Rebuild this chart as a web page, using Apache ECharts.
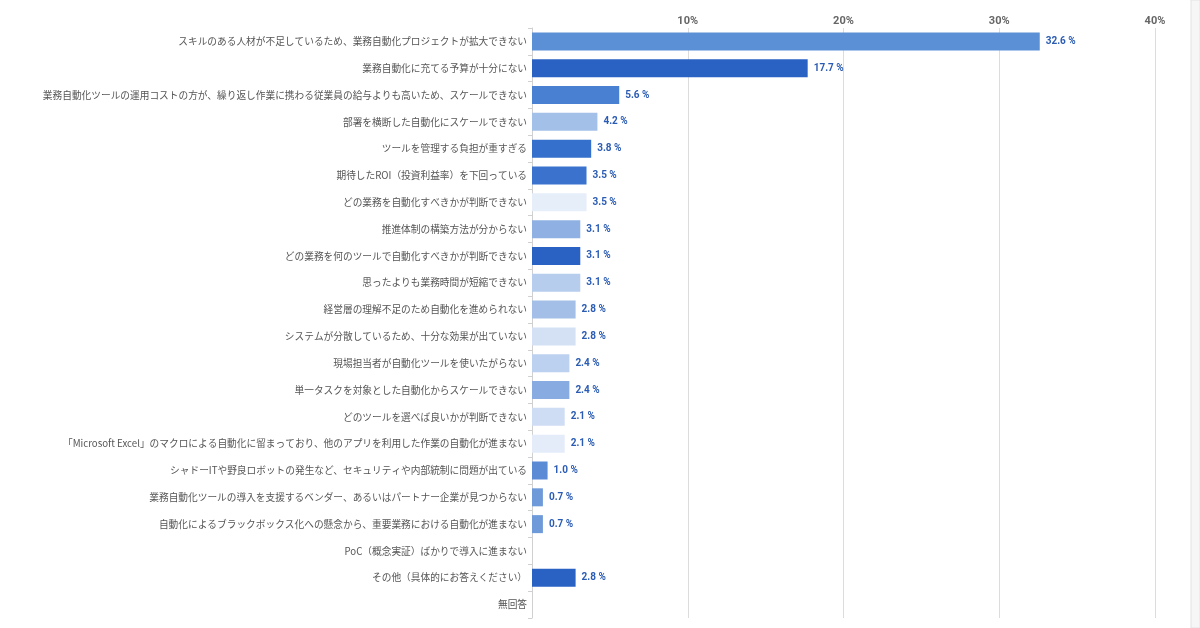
<!DOCTYPE html>
<html>
<head>
<meta charset="utf-8">
<script src="https://cdn.jsdelivr.net/npm/echarts@6/dist/echarts.min.js"></script>
<style>
  html, body { margin: 0; padding: 0; background: #fff; }
  #main { width: 1200px; height: 628px; }
</style>
</head>
<body>
<div id="main"></div>
<script>
// 回答項目
var categories = [
  "スキルのある人材が不足しているため、業務自動化プロジェクトが拡大できない",
  "業務自動化に充てる予算が十分にない",
  "業務自動化ツールの運用コストの方が、繰り返し作業に携わる従業員の給与よりも高いため、スケールできない",
  "部署を横断した自動化にスケールできない",
  "ツールを管理する負担が重すぎる",
  "期待したROI（投資利益率）を下回っている",
  "どの業務を自動化すべきかが判断できない",
  "推進体制の構築方法が分からない",
  "どの業務を何のツールで自動化すべきかが判断できない",
  "思ったよりも業務時間が短縮できない",
  "経営層の理解不足のため自動化を進められない",
  "システムが分散しているため、十分な効果が出ていない",
  "現場担当者が自動化ツールを使いたがらない",
  "単一タスクを対象とした自動化からスケールできない",
  "どのツールを選べば良いかが判断できない",
  "「Microsoft Excel」のマクロによる自動化に留まっており、他のアプリを利用した作業の自動化が進まない",
  "シャドーITや野良ロボットの発生など、セキュリティや内部統制に問題が出ている",
  "業務自動化ツールの導入を支援するベンダー、あるいはパートナー企業が見つからない",
  "自動化によるブラックボックス化への懸念から、重要業務における自動化が進まない",
  "PoC（概念実証）ばかりで導入に進まない",
  "その他（具体的にお答えください）",
  "無回答"
];

// 割合（%）
var values = [32.6, 17.7, 5.6, 4.2, 3.8, 3.5, 3.5, 3.1, 3.1, 3.1, 2.8, 2.8, 2.4, 2.4, 2.1, 2.1, 1.0, 0.7, 0.7, 0, 2.8, 0];

// 棒の色
var barColors = [
  "#5b8fd6", "#2a62c4", "#4a80d2", "#a3c0e8", "#3570cc", "#3a72ce",
  "#e6eef9", "#8fb0e2", "#2a62c4", "#b7cdee", "#a3bfe7", "#d4e1f5",
  "#bcd0ef", "#88ace2", "#cfddf4", "#e4ecf9", "#5a8bd4", "#6f9ad9",
  "#6f9ad9", "#6f9ad9", "#2a62c4", "#6f9ad9"
];

var tickValues = [0, 10, 20, 30, 40];

var chart = echarts.init(document.getElementById('main'));

var seriesData = [];
for (var i = 0; i < values.length; i++) {
  seriesData.push({ value: values[i], itemStyle: { color: barColors[i] } });
}

var option = {
  backgroundColor: '#ffffff',
  animation: false,
  graphic: [
    {
      type: 'rect',
      shape: { x: 1191, y: 0, width: 9, height: 628 },
      style: { fill: '#f6f6f6', stroke: '#e2e2e2', lineWidth: 1 },
      silent: true
    }
  ],
  grid: { left: 532, right: 45, top: 28, bottom: 10, containLabel: false, outerBoundsMode: 'none' },
  xAxis: {
    type: 'value',
    position: 'top',
    min: tickValues[0],
    max: tickValues[tickValues.length - 1],
    interval: 10,
    axisLine: { show: false },
    axisTick: { show: false },
    splitLine: { show: true, lineStyle: { color: '#dcdcdc', width: 1 } },
    axisLabel: {
      margin: 1,
      color: '#666',
      fontSize: 11,
      fontWeight: 'bold',
      fontFamily: 'Roboto, "Noto Sans CJK JP", sans-serif',
      formatter: function (v) { return v === 0 ? '' : v + '%'; }
    }
  },
  yAxis: {
    type: 'category',
    inverse: true,
    data: categories,
    axisLine: { show: true, lineStyle: { color: '#d0d0d0', width: 1 } },
    axisTick: { show: true, length: 4, lineStyle: { color: '#d0d0d0' } },
    axisLabel: {
      margin: 5,
      color: '#555',
      fontSize: 9.7,
      fontFamily: '"Noto Sans CJK JP", sans-serif'
    }
  },
  series: [
    {
      type: 'bar',
      data: seriesData,
      barWidth: 18,
      label: {
        show: true,
        position: 'right',
        distance: 6,
        color: '#2b5cb4',
        fontSize: 10,
        fontWeight: 'bold',
        fontFamily: 'Roboto, "Noto Sans CJK JP", sans-serif',
        formatter: function (p) { return p.value > 0 ? p.value.toFixed(1) + ' %' : ''; }
      }
    }
  ]
};

chart.setOption(option);
</script>
</body>
</html>
